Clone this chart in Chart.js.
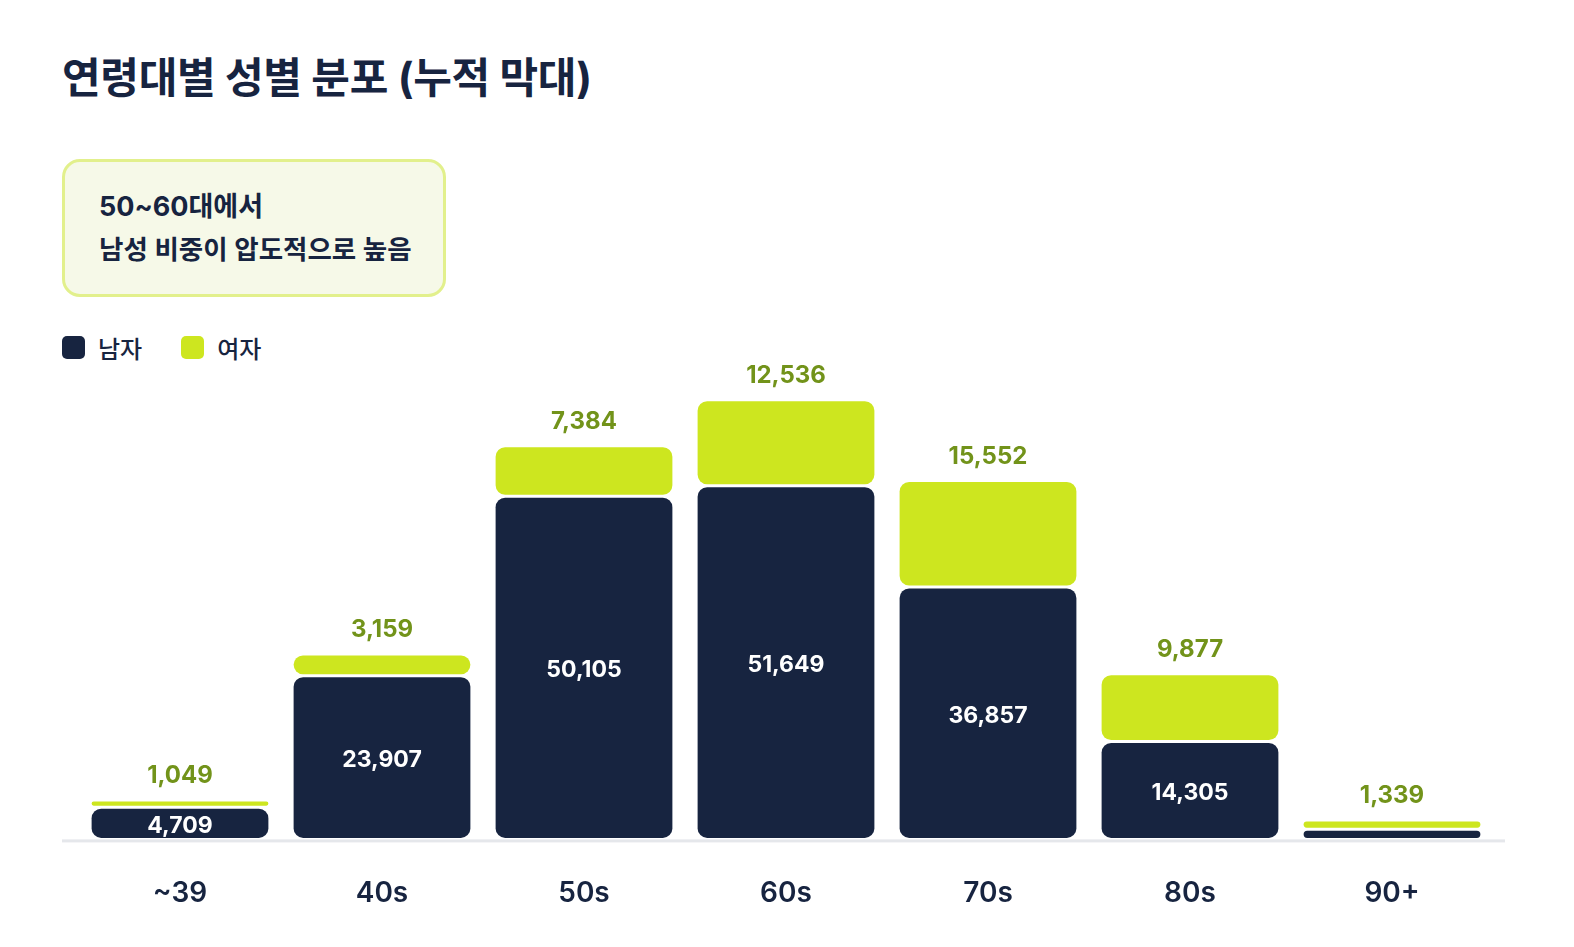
<!DOCTYPE html>
<html lang="ko">
<head>
    <meta charset="UTF-8">
    <title>연령대별 성별 분포</title>
    <script src="https://cdn.jsdelivr.net/npm/chart.js"></script>
    <style>
        body { margin: 0; background: #fff; font-family: Inter, "Noto Sans CJK KR", sans-serif; color: #172440; }
        .page { position: relative; width: 1574px; height: 947px; }
        h1 { position: absolute; left: 62px; top: 51px; margin: 0; font-size: 42px; font-weight: 700; letter-spacing: -0.3px; line-height: 54px; }
        .note { position: absolute; left: 62px; top: 159px; width: 384px; height: 138px; box-sizing: border-box;
                border: 3px solid #e2f08c; border-radius: 18px; background: #f6f9e8; padding: 27px 0 0 34px; }
        .note .l1 { font-size: 27px; font-weight: 700; line-height: 36px; }
        .note .l2 { font-size: 26.5px; font-weight: 600; line-height: 36px; margin-top: 6px; }
        .legend { position: absolute; left: 62px; top: 330px; display: flex; align-items: center; font-size: 24px; font-weight: 500; }
        .legend .sw { width: 23px; height: 23px; border-radius: 5px; margin-right: 13px; }
        .legend .item { display: flex; align-items: center; margin-right: 39px; }
        .chartbox { position: absolute; left: 0; top: 360px; width: 1574px; height: 579px; }
    </style>
</head>
<body>
<div class="page">
    <h1>연령대별 성별 분포 (누적 막대)</h1>
    <div class="note">
        <div class="l1">50~60대에서</div>
        <div class="l2">남성 비중이 압도적으로 높음</div>
    </div>
    <div class="legend">
        <div class="item"><span class="sw" style="background:#172440"></span>남자</div>
        <div class="item"><span class="sw" style="background:#cde61f"></span>여자</div>
    </div>
    <div class="chartbox"><canvas id="myChart"></canvas></div>
</div>
<script>
    const ageGroups = ['~39', '40s', '50s', '60s', '70s', '80s', '90+'];
    const maleCounts = [4709, 23907, 50105, 51649, 36857, 14305, 1500];
    const femaleCounts = [1049, 3159, 7384, 12536, 15552, 9877, 1339];

    const NAVY = '#172440';
    const LIME = '#cde61f';
    const OLIVE = '#72931a';
    const FONT = 'Inter, "Noto Sans CJK KR", sans-serif';

    Chart.defaults.font.family = FONT;

    const fmt = v => v.toLocaleString('en-US');
    // object form so every segment of the stack gets rounded corners
    const radius = { topLeft: 11, topRight: 11, bottomLeft: 11, bottomRight: 11 };

    // value labels + baseline
    const labelPlugin = {
        id: 'barLabels',
        afterDatasetsDraw(chart) {
            const ctx = chart.ctx;
            const area = chart.chartArea;
            ctx.save();
            ctx.fillStyle = '#e5e7eb';
            ctx.fillRect(62, area.bottom, 1443, 3);

            ctx.textAlign = 'center';
            ctx.textBaseline = 'middle';
            ctx.font = '700 23px ' + FONT;
            const male = chart.getDatasetMeta(0).data;
            male.forEach((bar, i) => {
                if (maleCounts[i] < 2000) return; // too short for a label
                ctx.fillStyle = '#ffffff';
                ctx.fillText(fmt(maleCounts[i]), bar.x, (bar.y + bar.base) / 2 + 2.5);
            });
            ctx.font = '700 24px ' + FONT;
            const female = chart.getDatasetMeta(1).data;
            female.forEach((bar, i) => {
                ctx.fillStyle = OLIVE;
                ctx.fillText(fmt(femaleCounts[i]), bar.x, bar.y - 24);
            });
            ctx.restore();
        }
    };

    const ctx = document.getElementById('myChart').getContext('2d');
    const myChart = new Chart(ctx, {
        type: 'bar',
        data: {
            labels: ageGroups,
            datasets: [
                {
                    label: '남자',
                    data: maleCounts,
                    backgroundColor: NAVY,
                    borderColor: '#ffffff',
                    borderWidth: 1.5,
                    borderSkipped: false,
                    borderRadius: radius
                },
                {
                    label: '여자',
                    data: femaleCounts,
                    backgroundColor: LIME,
                    borderColor: '#ffffff',
                    borderWidth: 1.5,
                    borderSkipped: false,
                    borderRadius: radius
                }
            ]
        },
        options: {
            responsive: true,
            maintainAspectRatio: false,
            animation: false,
            barPercentage: 0.89,
            categoryPercentage: 1.0,
            layout: { padding: { left: 79, right: 81, top: 0, bottom: 0 } },
            plugins: {
                legend: { display: false },
                tooltip: { enabled: false }
            },
            scales: {
                x: {
                    stacked: true,
                    grid: { display: false },
                    border: { display: false },
                    ticks: { color: NAVY, padding: 29, font: { size: 28, weight: '600' } }
                },
                y: {
                    stacked: true,
                    display: false,
                    min: 0,
                    max: 70000
                }
            }
        },
        plugins: [labelPlugin]
    });
</script>
</body>
</html>
